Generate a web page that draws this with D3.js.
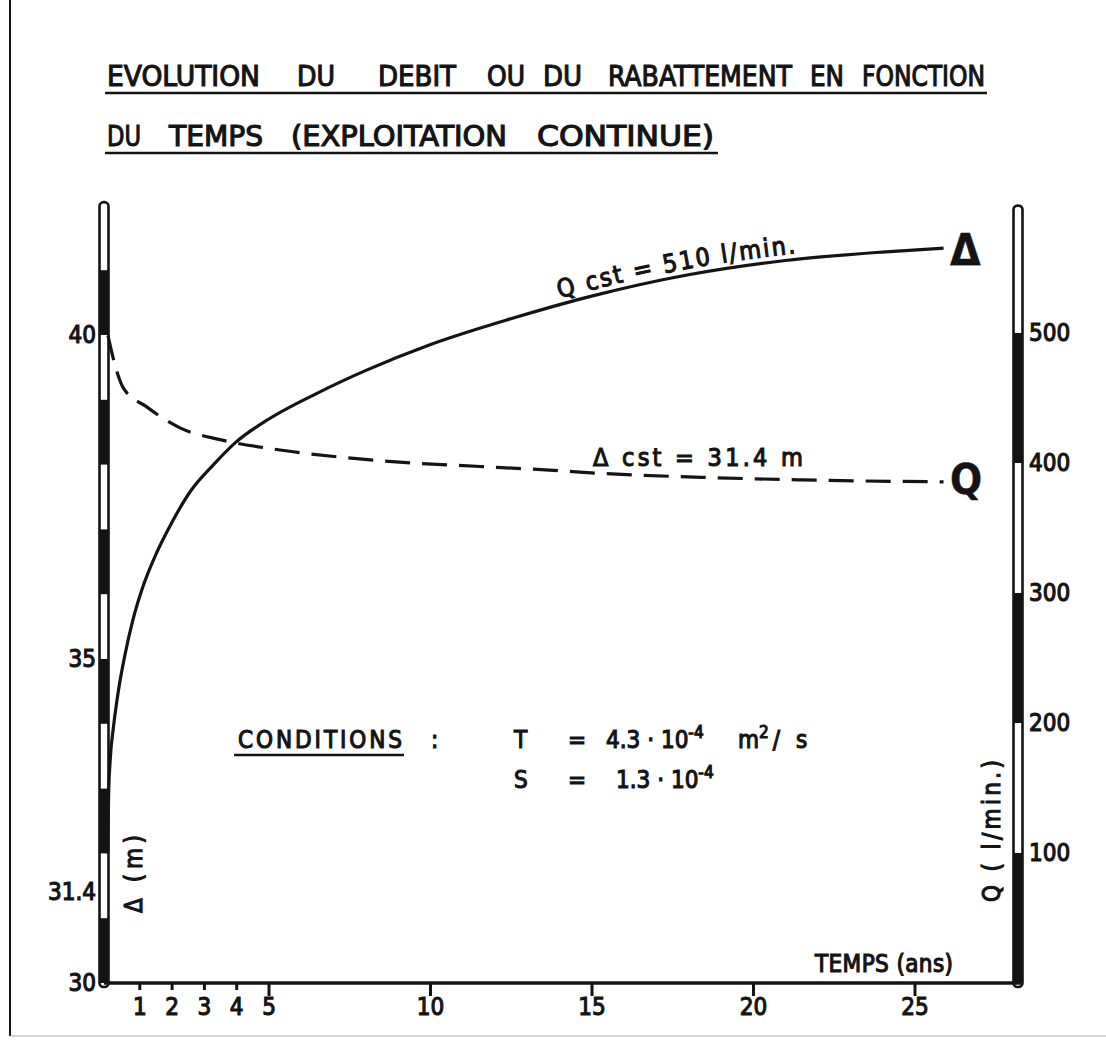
<!DOCTYPE html>
<html><head><meta charset="utf-8">
<script src="https://cdn.jsdelivr.net/npm/d3@7"></script>
<style>
body{margin:0;background:#fff;}
svg{display:block;}
text{font-family:"DejaVu Sans Condensed","DejaVu Sans",sans-serif;font-weight:normal;fill:#141414;stroke:#141414;stroke-width:1.1px;}
text.big{font-weight:bold;stroke-width:0.4px;}
</style></head><body>
<svg id="chart" width="1106" height="1042"></svg>
<script>
// ---------- data ----------
const titleLine1 = ["EVOLUTION","DU","DEBIT","OU","DU","RABATTEMENT","EN","FONCTION"];
const titleLine2 = ["DU","TEMPS","(EXPLOITATION","CONTINUE)"];
const timeTicks = [1,2,3,4,5,10,15,20,25];
const drawdownTicks = [30,31.4,35,40];
const flowTicks = [100,200,300,400,500];
// drawdown Δ (m) at constant Q = 510 l/min
const deltaTime  = [0.02,0.05,0.1,0.2,0.35,0.55,0.8,1.1,1.5,2.0,2.6,3.3,4.0,5.0,6.5,8,10,12.5,15,18,21,24,25.9];
const deltaValue = [32.0,32.9,33.45,33.95,34.5,35.05,35.6,36.1,36.6,37.1,37.6,38.0,38.35,38.7,39.1,39.45,39.85,40.25,40.6,40.93,41.15,41.28,41.34];
// discharge Q (l/min) at constant Δ = 31.4 m
const flowTime  = [0.03,0.31,0.5,1.24,2.26,3.5,5.36,7.43,9.47,11.55,13.7,15.3,18.4,21.5,25.9];
const flowValue = [498,470,458,443,427,418,410,404,400,397.3,394.5,392,389,387,385.5];

// ---------- layout ----------
const svg = d3.select("#chart");
const ink = "#141414";
const xL = 104, xR = 1018, yBase = 983;
const x  = d3.scaleLinear().domain([0,25]).range([107,914.5]);
const yL = d3.scaleLinear().domain([30,40]).range([983,335]);
const yR = d3.scaleLinear().domain([0,500]).range([983,333]);

// frame
svg.append("line").attr("x1",10).attr("x2",10).attr("y1",0).attr("y2",1036).attr("stroke",ink).attr("stroke-width",2);
svg.append("line").attr("x1",10).attr("x2",1106).attr("y1",1036).attr("y2",1036).attr("stroke","#aaa").attr("stroke-width",1);

// title
function titleLine(words, spans, base, ulEnd){
  words.forEach((w,i)=>{
    svg.append("text").attr("x",spans[i][0]).attr("y",base)
      .attr("font-size",29).attr("textLength",spans[i][1]-spans[i][0])
      .attr("lengthAdjust","spacingAndGlyphs").text(w);
  });
  svg.append("line").attr("x1",105).attr("x2",ulEnd).attr("y1",base+7).attr("y2",base+7)
    .attr("stroke",ink).attr("stroke-width",2.5);
}
titleLine(titleLine1, [[107,260],[297,335],[378,456],[487,525],[543,582],[608,792],[810,844],[862,985]], 86, 987);
titleLine(titleLine2, [[107,141],[169,263],[291,507],[537,714]], 146, 718);

// axis bars
function axisBar(cx, scale, lo, top, step){
  const yTop = scale(top), yBot = scale(lo);
  svg.append("rect").attr("x",cx-4.5).attr("y",yTop).attr("width",9).attr("height",yBot-yTop+4)
    .attr("rx",4).attr("fill","#fff").attr("stroke",ink).attr("stroke-width",2.6);
  d3.range(lo, top-step, step*2).forEach(v=>{
    svg.append("rect").attr("x",cx-4.5).attr("y",scale(v+step)).attr("width",9)
      .attr("height",scale(v)-scale(v+step)).attr("fill",ink);
  });
}
axisBar(xL, yL, 30, 42.05, 1);
axisBar(xR, yR, 0, 598, 100);

// x axis line
svg.append("line").attr("x1",xL).attr("x2",xR+3).attr("y1",yBase).attr("y2",yBase)
  .attr("stroke",ink).attr("stroke-width",3.5);

function styleAxis(g){
  g.select(".domain").remove();
  g.attr("font-family",null).attr("font-size",null);
  g.selectAll("text").attr("font-size",24).attr("fill",ink);
  g.selectAll("line").attr("stroke",ink).attr("stroke-width",3);
}
svg.append("g").attr("transform",`translate(${xL-5},0)`)
  .call(d3.axisLeft(yL).tickValues(drawdownTicks).tickSize(0).tickPadding(3).tickFormat(d=>String(d)))
  .call(styleAxis);
svg.append("g").attr("transform",`translate(${xR+5},0)`)
  .call(d3.axisRight(yR).tickValues(flowTicks).tickSize(0).tickPadding(6).tickFormat(d=>String(d)))
  .call(styleAxis);
const gx = svg.append("g").attr("transform",`translate(0,${yBase})`)
  .call(d3.axisBottom(x).tickValues(timeTicks).tickSize(13).tickPadding(2).tickFormat(d=>String(d)))
  .call(styleAxis);
gx.selectAll(".tick line").attr("y2",d=>d<5?7:13);

// curves
const deltaData = deltaTime.map((t,i)=>({t,v:deltaValue[i]}));
const flowData  = flowTime.map((t,i)=>({t,v:flowValue[i]}));
const deltaPath = svg.append("path").attr("id","deltaPath")
  .attr("d", d3.line().x(d=>x(d.t)).y(d=>yL(d.v)).curve(d3.curveMonotoneX)(deltaData))
  .attr("fill","none").attr("stroke",ink).attr("stroke-width",3.2);
svg.append("path")
  .attr("d", d3.line().x(d=>x(d.t)).y(d=>yR(d.v)).curve(d3.curveMonotoneX)(flowData))
  .attr("fill","none").attr("stroke",ink).attr("stroke-width",3.2).attr("stroke-dasharray","25,12");

// label along the drawdown curve
const node = deltaPath.node();
let lo = 0, hi = node.getTotalLength();
for(let k=0;k<40;k++){ const m=(lo+hi)/2; if(node.getPointAtLength(m).x<561) lo=m; else hi=m; }
const qlab = svg.append("text").attr("dy",-6).attr("font-size",25);
const qtp = qlab.append("textPath").attr("href","#deltaPath").attr("startOffset",lo)
  .text("Q cst = 510  l/min.");
{
  const cur = qtp.node().getComputedTextLength();
  qlab.attr("letter-spacing", (242-cur)/18);
}

// label on the discharge curve
svg.append("text").attr("x",593).attr("y",466).attr("font-size",25)
  .attr("textLength",210).attr("lengthAdjust","spacing").text("Δ cst  =  31.4  m");

// curve names
svg.append("text").attr("class","big").attr("x",950).attr("y",266).attr("font-size",44).text("Δ");
svg.append("text").attr("class","big").attr("x",950).attr("y",494).attr("font-size",42).text("Q");

// axis titles
svg.append("text").attr("transform","translate(142,913) rotate(-90)").attr("font-size",24)
  .attr("textLength",78).attr("lengthAdjust","spacing").text("Δ (m)");
svg.append("text").attr("transform","translate(1000,902) rotate(-90)").attr("font-size",24)
  .attr("textLength",142).attr("lengthAdjust","spacing").text("Q ( l/min.)");
svg.append("text").attr("x",953).attr("y",972).attr("font-size",24).attr("text-anchor","end")
  .attr("textLength",138).attr("lengthAdjust","spacing").text("TEMPS (ans)");

// conditions
svg.append("text").attr("x",238).attr("y",748).attr("font-size",24)
  .attr("textLength",164).attr("lengthAdjust","spacing").text("CONDITIONS");
svg.append("line").attr("x1",234).attr("x2",404).attr("y1",755).attr("y2",755).attr("stroke",ink).attr("stroke-width",2.5);
svg.append("text").attr("x",431).attr("y",748).attr("font-size",24).text(":");
function condLine(base, sym, mant, unit){
  svg.append("text").attr("x",514).attr("y",base).attr("font-size",24).text(sym);
  svg.append("text").attr("x",568).attr("y",base).attr("font-size",24).text("=");
  const t = svg.append("text").attr("x",mant[1]).attr("y",base).attr("font-size",24);
  t.append("tspan").text(mant[0]);
  t.append("tspan").attr("dy",-10).attr("font-size",17).text("-4");
  if(unit){
    const u = svg.append("text").attr("x",738).attr("y",base).attr("font-size",24);
    u.append("tspan").text("m");
    u.append("tspan").attr("dy",-10).attr("font-size",17).text("2");
    u.append("tspan").attr("dy",10).attr("dx",4).text("/");
    u.append("tspan").attr("dx",16).text("s");
  }
}
condLine(748, "T", ["4.3 · 10", 606], true);
condLine(788, "S", ["1.3 · 10", 616], false);
</script>
</body></html>
